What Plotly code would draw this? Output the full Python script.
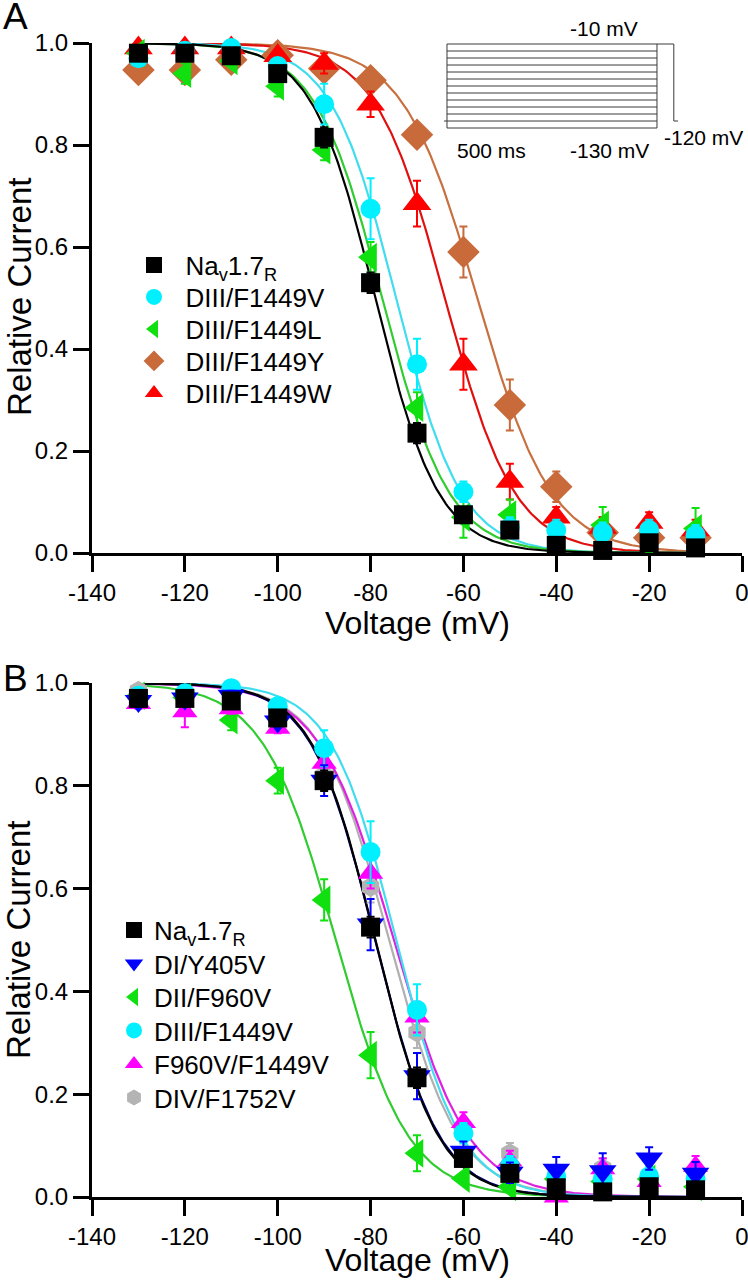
import numpy as np
import plotly.graph_objects as go

# ----------------------------
# Data
# ----------------------------
voltages = [-130, -120, -110, -100, -90, -80, -70, -60, -50, -40, -30, -20, -10]

# Panel A
nav_a = [0.98, 0.98, 0.975, 0.94, 0.815, 0.53, 0.235, 0.075, 0.045, 0.015, 0.005, 0.02, 0.01]
nav_a_err = [0.01, 0.01, 0.01, 0.01, 0.02, 0.02, 0.02, 0.01, 0.01, 0.01, 0.01, 0.01, 0.01]
f1449v_a = [0.97, 0.985, 0.99, 0.955, 0.88, 0.675, 0.37, 0.12, 0.05, 0.045, 0.04, 0.045, 0.035]
f1449v_a_err = [0.01, 0.01, 0.01, 0.01, 0.04, 0.06, 0.05, 0.02, 0.02, 0.02, 0.02, 0.02, 0.02]
f1449l_a = [0.98, 0.94, 0.965, 0.915, 0.79, 0.58, 0.285, 0.07, 0.075, -0.005, 0.055, -0.02, 0.048]
f1449l_a_err = [0.01, 0.02, 0.01, 0.02, 0.02, 0.03, 0.03, 0.04, 0.03, 0.03, 0.035, 0.02, 0.04]
f1449y_a = [0.947, 0.947, 0.967, 0.976, 0.95, 0.927, 0.82, 0.59, 0.29, 0.13, 0.04, 0.03, 0.03]
f1449y_a_err = [0.01, 0.01, 0.01, 0.01, 0.02, 0.02, 0.02, 0.05, 0.05, 0.03, 0.03, 0.02, 0.02]
f1449w_a = [0.99, 0.99, 0.99, 0.975, 0.96, 0.88, 0.685, 0.37, 0.14, 0.07, 0.05, 0.06, 0.045]
f1449w_a_err = [0.02, 0.02, 0.02, 0.01, 0.02, 0.025, 0.045, 0.05, 0.035, 0.02, 0.02, 0.02, 0.02]

# Panel B
nav_b = [0.97, 0.97, 0.965, 0.932, 0.81, 0.525, 0.232, 0.075, 0.046, 0.018, 0.01, 0.02, 0.014]
nav_b_err = [0.01, 0.01, 0.01, 0.01, 0.02, 0.02, 0.02, 0.01, 0.01, 0.01, 0.01, 0.01, 0.01]
y405v_b = [0.965, 0.97, 0.975, 0.925, 0.81, 0.53, 0.235, 0.088, 0.047, 0.053, 0.05, 0.075, 0.045]
y405v_b_err = [0.01, 0.01, 0.01, 0.01, 0.03, 0.05, 0.045, 0.02, 0.02, 0.025, 0.035, 0.022, 0.023]
f960v_b = [0.975, 0.972, 0.928, 0.81, 0.578, 0.276, 0.085, 0.036, 0.02, 0.035, 0.03, 0.035, 0.02]
f960v_b_err = [0.01, 0.01, 0.02, 0.025, 0.04, 0.045, 0.035, 0.01, 0.01, 0.01, 0.01, 0.01, 0.01]
f1449v_b = [0.975, 0.98, 0.99, 0.955, 0.873, 0.671, 0.364, 0.124, 0.06, 0.04, 0.035, 0.04, 0.035]
f1449v_b_err = [0.01, 0.01, 0.01, 0.01, 0.035, 0.06, 0.05, 0.02, 0.02, 0.02, 0.02, 0.02, 0.02]
dbl_b = [0.96, 0.944, 0.95, 0.912, 0.844, 0.63, 0.35, 0.145, 0.07, 0.0, 0.055, 0.03, 0.06]
dbl_b_err = [0.01, 0.03, 0.01, 0.01, 0.02, 0.03, 0.03, 0.02, 0.02, 0.01, 0.02, 0.01, 0.02]
f1752v_b = [0.985, 0.98, 0.975, 0.925, 0.82, 0.603, 0.32, 0.13, 0.085, 0.04, 0.056, 0.03, 0.04]
f1752v_b_err = [0.01, 0.01, 0.01, 0.01, 0.02, 0.03, 0.03, 0.02, 0.02, 0.02, 0.02, 0.02, 0.02]

# Boltzmann fit parameters (V1/2 in mV, slope k in mV)
fit_a = {
    "nav": (-79.0, 6.8),
    "f1449v": (-74.5, 7.0),
    "f1449l": (-77.5, 7.2),
    "f1449y": (-57.0, 8.0),
    "f1449w": (-64.0, 7.5),
}
fit_b = {
    "nav": (-79.0, 6.8),
    "y405v": (-79.0, 6.9),
    "f960v": (-87.5, 7.8),
    "f1449v": (-74.5, 7.0),
    "dbl": (-75.0, 8.0),
    "f1752v": (-76.0, 7.5),
}

x_tick_vals = [-140, -120, -100, -80, -60, -40, -20, 0]
x_tick_text = ["-140", "-120", "-100", "-80", "-60", "-40", "-20", "0"]

# Voltage protocol shown in the inset
prepulse_mv = voltages
prepulse_ms = 500
test_mv = -10
test_ms = 40
holding_mv = -120

FONT = "Arial, Liberation Sans, sans-serif"

# layout is worked out in page pixels
W, H = 748, 1280
PLOT_L, PLOT_R, PLOT_T, PLOT_B = 92, 742, 30, 1210


def px_x(x):
    return (x - PLOT_L) / (PLOT_R - PLOT_L)


def px_y(y):
    return (PLOT_B - y) / (PLOT_B - PLOT_T)


v_fit = np.linspace(-130, -10, 300)


def boltz(vh, k):
    return 1.0 / (1.0 + np.exp((v_fit - vh) / k))


fig = go.Figure()


def add_fit(params, color, xa, ya):
    vh, k = params
    fig.add_trace(go.Scatter(
        x=v_fit, y=boltz(vh, k), mode="lines",
        line=dict(color=color, width=2.2),
        showlegend=False, hoverinfo="skip",
        xaxis=xa, yaxis=ya, cliponaxis=False,
    ))


def add_points(y, err, name, color, symbol, size, xa, ya, legend):
    fig.add_trace(go.Scatter(
        x=voltages, y=y, mode="markers", name=name,
        marker=dict(color=color, symbol=symbol, size=size, line=dict(width=0)),
        error_y=dict(type="data", array=err, color=color, thickness=2, width=4),
        xaxis=xa, yaxis=ya, legend=legend,
        cliponaxis=False,
    ))


NAV_NAME = "Na<sub>v</sub>1.7<sub>R</sub>"

# ----------------------------
# Panel A
# ----------------------------
add_fit(fit_a["f1449y"], "#C8703F", "x", "y")
add_fit(fit_a["f1449w"], "#E01010", "x", "y")
add_fit(fit_a["f1449v"], "#40DDEE", "x", "y")
add_fit(fit_a["f1449l"], "#30CC30", "x", "y")
add_fit(fit_a["nav"], "black", "x", "y")

add_points(f1449y_a, f1449y_a_err, "DIII/F1449Y", "#C86A3A", "diamond", 25, "x", "y", "legend4")
add_points(f1449w_a, f1449w_a_err, "DIII/F1449W", "#FF0000", "triangle-up", 25, "x", "y", "legend5")
add_points(f1449l_a, f1449l_a_err, "DIII/F1449L", "#10E010", "triangle-left", 25, "x", "y", "legend3")
add_points(f1449v_a, f1449v_a_err, "DIII/F1449V", "#00F0FF", "circle", 20, "x", "y", "legend2")
add_points(nav_a, nav_a_err, NAV_NAME, "black", "square", 19, "x", "y", "legend")

# ----------------------------
# Panel B
# ----------------------------
add_fit(fit_b["f960v"], "#30CC30", "x2", "y2")
add_fit(fit_b["f1752v"], "#B0B0B0", "x2", "y2")
add_fit(fit_b["dbl"], "#E020E0", "x2", "y2")
add_fit(fit_b["f1449v"], "#40DDEE", "x2", "y2")
add_fit(fit_b["y405v"], "#000080", "x2", "y2")
add_fit(fit_b["nav"], "black", "x2", "y2")

add_points(f960v_b, f960v_b_err, "DII/F960V", "#10E010", "triangle-left", 25, "x2", "y2", "legend8")
add_points(f1752v_b, f1752v_b_err, "DIV/F1752V", "#B4B4B4", "hexagon", 20, "x2", "y2", "legend11")
add_points(dbl_b, dbl_b_err, "F960V/F1449V", "#FF00FF", "triangle-up", 22, "x2", "y2", "legend10")
add_points(f1449v_b, f1449v_b_err, "DIII/F1449V", "#00F0FF", "circle", 20, "x2", "y2", "legend9")
add_points(y405v_b, y405v_b_err, "DI/Y405V", "#0000FF", "triangle-down", 24, "x2", "y2", "legend7")
add_points(nav_b, nav_b_err, NAV_NAME, "black", "square", 19, "x2", "y2", "legend6")

# ----------------------------
# Inset: voltage protocol
# ----------------------------
px, py = [], []
for v in prepulse_mv:
    px += [0, prepulse_ms, None]
    py += [v, v, None]
lo, hi = min(prepulse_mv), max(prepulse_mv)
px += [-7, 0, None, 0, 0, None, prepulse_ms, prepulse_ms, None,
       prepulse_ms, prepulse_ms + test_ms, prepulse_ms + test_ms, prepulse_ms + test_ms + 10]
py += [holding_mv, holding_mv, None, lo, hi, None, lo, hi, None,
       test_mv, test_mv, holding_mv, holding_mv]
fig.add_trace(go.Scatter(
    x=px, y=py, mode="lines", line=dict(color="#3a3a3a", width=1),
    showlegend=False, hoverinfo="skip", xaxis="x3", yaxis="y3", cliponaxis=False,
))

# ----------------------------
# Layout
# ----------------------------
axis_x = dict(
    range=[-140, 0.001], tickmode="array", tickvals=x_tick_vals, ticktext=x_tick_text,
    showline=True, linewidth=3, linecolor="black",
    ticks="outside", ticklen=16, tickwidth=3, tickcolor="black",
    showgrid=False, zeroline=False, ticklabeloverflow="allow",
    tickfont=dict(size=24, color="black", family=FONT),
    automargin=False,
)
axis_y = dict(
    range=[0, 1.0], tick0=0, dtick=0.2, tickformat=".1f",
    showline=True, linewidth=3, linecolor="black",
    ticks="outside", ticklen=16, tickwidth=3, tickcolor="black",
    showgrid=False, zeroline=False,
    tickfont=dict(size=24, color="black", family=FONT),
    automargin=False,
)
hidden = dict(visible=False, showgrid=False, zeroline=False)


def legend_at(sym_x, y, itemwidth):
    return dict(
        xref="paper", yref="paper", xanchor="left", yanchor="middle",
        x=px_x(sym_x - 4 - itemwidth / 2), y=px_y(y),
        bgcolor="rgba(0,0,0,0)", borderwidth=0,
        font=dict(size=26, color="black", family=FONT),
        itemsizing="trace", itemwidth=itemwidth,
    )


legends = {}
for i in range(5):
    key = "legend" if i == 0 else f"legend{i + 1}"
    legends[key] = legend_at(153, 265 + 32 * i, 53)
for i in range(6):
    legends[f"legend{i + 6}"] = legend_at(133, 930 + 33.5 * i, 30)


def label(text, x, y, size, angle=0):
    return dict(text=text, x=px_x(x), y=px_y(y), xref="paper", yref="paper",
                showarrow=False, xanchor="center", yanchor="middle", textangle=angle,
                font=dict(size=size, color="black", family=FONT))


def inset_label(text, x, y, xanchor, yanchor, yshift):
    return dict(text=text, x=x, y=y, xref="x3", yref="y3", showarrow=False,
                xanchor=xanchor, yanchor=yanchor, yshift=yshift,
                font=dict(size=21, color="black", family=FONT))


fig.update_layout(
    width=W, height=H,
    margin=dict(l=PLOT_L, r=W - PLOT_R, t=PLOT_T, b=H - PLOT_B),
    plot_bgcolor="white", paper_bgcolor="white",
    font=dict(family=FONT, color="black"),
    showlegend=True,
    xaxis=dict(axis_x, domain=[0, 1], anchor="y"),
    yaxis=dict(axis_y, domain=[px_y(553), px_y(43)], anchor="x"),
    xaxis2=dict(axis_x, domain=[0, 1], anchor="y2"),
    yaxis2=dict(axis_y, domain=[px_y(1197), px_y(683)], anchor="x2"),
    xaxis3=dict(hidden, domain=[px_x(442.8), px_x(682.2)], range=[-10, 560], anchor="y3"),
    yaxis3=dict(hidden, domain=[px_y(131.5), px_y(40.5)], range=[-135, -5], anchor="x3"),
    annotations=[
        label("A", 15, 17, 37),
        label("B", 15, 678, 37),
        label("Voltage (mV)", 417, 623, 32),
        label("Voltage (mV)", 417, 1260, 32),
        label("Relative Current", 19, 297, 33, -90),
        label("Relative Current", 19, 940, 33, -90),
        inset_label("-10 mV", 374, test_mv, "center", "bottom", 2),
        inset_label("500 ms", 105, min(prepulse_mv), "center", "top", -9),
        inset_label("-130 mV", 386, min(prepulse_mv), "center", "top", -9),
        inset_label("-120 mV", 512, holding_mv, "left", "top", -3),
    ],
    **legends,
)

fig.write_html("out.html", config={"displayModeBar": False},
               post_script="document.body.style.margin = '0px';")
